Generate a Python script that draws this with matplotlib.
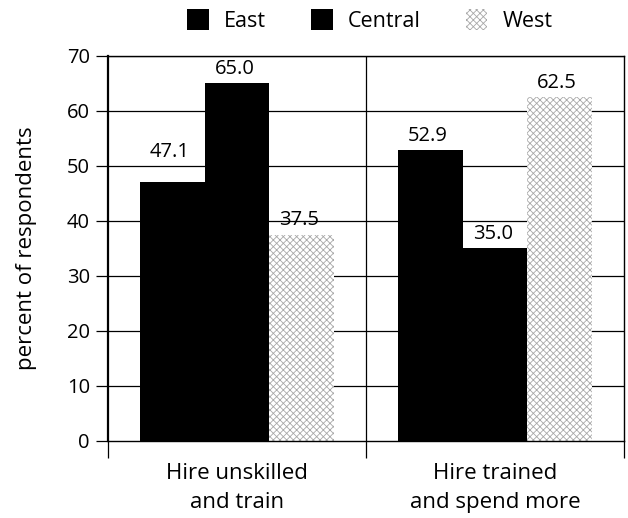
import matplotlib
matplotlib.use("Agg")
import numpy as np
from matplotlib import pyplot as plt

plt.rcParams["font.family"] = ["Open Sans", "DejaVu Sans"]
plt.rcParams["hatch.color"] = "#a8a8a8"
plt.rcParams["hatch.linewidth"] = 0.6

groups = ["Hire unskilled\nand train", "Hire trained\nand spend more"]
regions = ["East", "Central", "West"]
east = [47.1, 52.9]
central = [65.0, 35.0]
west = [37.5, 62.5]
yticks = [0, 10, 20, 30, 40, 50, 60, 70]

fig = plt.figure(figsize=(6.28, 5.18), dpi=100)
ax = fig.add_axes([0.172, 0.149, 0.822, 0.743])

centers = np.arange(len(groups)) + 0.5
width = 0.25
styles = [
    dict(color="black"),
    dict(color="black"),
    dict(facecolor="white", hatch="xxxxx", edgecolor="#a8a8a8", linewidth=0),
]

for k, (name, values, style) in enumerate(zip(regions, [east, central, west], styles)):
    bars = ax.bar(centers + (k - 1) * width, values, width, label=name, zorder=2, **style)
    for i, (bar, v) in enumerate(zip(bars, values)):
        lift = 14 if (k == 0 and i == 0) else 3  # the 47.1 label sits higher in the original
        ax.annotate(f"{v:.1f}", (bar.get_x() + bar.get_width() / 2 - 0.01, v),
                    xytext=(0, lift), textcoords="offset points",
                    ha="center", va="bottom", fontsize=14.5, zorder=3)

# horizontal grid lines behind bars
for y in yticks[1:]:
    ax.axhline(y, color="black", lw=0.9, zorder=1)

# divider between the two groups
ax.axvline(1, color="black", lw=0.9, zorder=1)

ax.set_xlim(0, 2)
ax.set_ylim(0, 70)
ax.set_yticks(yticks)
ax.tick_params(axis="y", direction="out", length=9, width=0.9, labelsize=14.5, pad=4)

ax.set_xticks([0, 1, 2])
ax.set_xticklabels(["", "", ""])
ax.tick_params(axis="x", which="major", direction="out", length=12, width=0.9)
ax.set_xticks(centers, minor=True)
ax.set_xticklabels(groups, minor=True, fontsize=16, linespacing=1.5)
ax.tick_params(axis="x", which="minor", length=0, pad=16)

ax.set_ylabel("percent of respondents", fontsize=16)
ax.yaxis.set_label_coords(-0.138, 0.5)

for side in ["top", "right", "bottom"]:
    ax.spines[side].set_linewidth(1.0)
ax.spines["left"].set_linewidth(1.6)

fig.legend(loc="upper center", bbox_to_anchor=(0.589, 1.02), ncol=3, frameon=False,
           fontsize=15.5, handlelength=1.0, handleheight=1.15, columnspacing=2.1,
           handletextpad=0.7)

fig.savefig("out.png", dpi=100)
